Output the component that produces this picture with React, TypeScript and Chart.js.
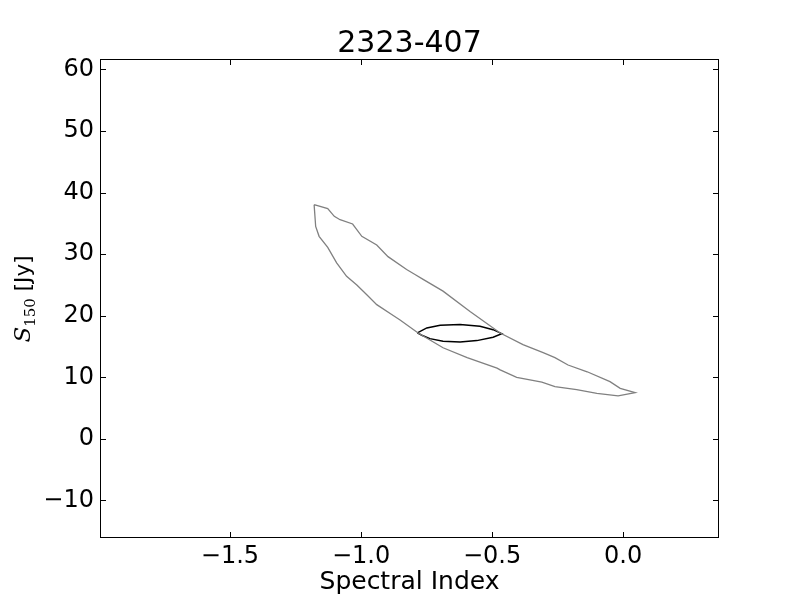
import React, { useEffect, useRef } from "react";
import { Chart, registerables } from "chart.js";

Chart.register(...registerables);

const TITLE = "2323-407";
const X_LABEL = "Spectral Index";
const X_TICKS = [-1.5, -1.0, -0.5, 0.0];
const Y_TICKS = [-10, 0, 10, 20, 30, 40, 50, 60];
const X_MIN = -1.996;
const X_MAX = 0.366;
const Y_MIN = -16.1;
const Y_MAX = 61.7;

// Outer (grey) contour
const outerX = [
  -1.179, -1.127, -1.102, -1.08, -1.032, -0.997, -0.94, -0.897, -0.826, -0.794,
  -0.763, -0.687, -0.584, -0.469, -0.382, -0.305, -0.26, -0.21, -0.137, -0.05,
  -0.011, 0.046, -0.019, -0.1, -0.177, -0.26, -0.31, -0.406, -0.469, -0.481,
  -0.595, -0.687, -0.782, -0.851, -0.883, -0.94, -0.978, -1.016, -1.055, -1.093,
  -1.127, -1.16, -1.173,
];
const outerY = [
  38.05, 37.4, 36.15, 35.6, 34.9, 32.9, 31.5, 29.6, 27.5, 26.7,
  25.9, 24.0, 20.7, 17.2, 15.3, 14.0, 13.2, 12.0, 10.9, 9.3,
  8.2, 7.5, 7.0, 7.4, 8.0, 8.5, 9.2, 10.0, 11.2, 11.5,
  13.2, 14.8, 17.2, 19.3, 20.2, 21.8, 23.4, 25.0, 26.4, 28.6,
  31.1, 32.9, 34.5,
];

// Inner (black) contour
const innerX = [
  -0.785, -0.749, -0.698, -0.622, -0.546, -0.496, -0.463,
  -0.496, -0.558, -0.622, -0.687, -0.737, -0.768,
];
const innerY = [
  17.21, 18.02, 18.46, 18.56, 18.3, 17.74, 17.09,
  16.51, 15.96, 15.75, 15.86, 16.28, 16.83,
];

const closed = (xs: number[], ys: number[]) => {
  const pts = xs.map((x, i) => ({ x, y: ys[i] }));
  pts.push(pts[0]);
  return pts;
};

const fmt = (s: string) => s.replace("-", "\u2212");

const decorPlugin = {
  id: "decor",
  afterDraw(chart: any) {
    const { ctx, chartArea: a, scales } = chart;
    const xs = scales.x;
    const ys = scales.y;
    ctx.save();
    ctx.strokeStyle = "#000";
    ctx.lineWidth = 1;
    ctx.strokeRect(a.left + 0.5, a.top + 0.5, a.right - a.left - 1, a.bottom - a.top - 1);
    const tl = 6;
    ctx.beginPath();
    X_TICKS.forEach((v) => {
      const p = Math.round(xs.getPixelForValue(v)) + 0.5;
      ctx.moveTo(p, a.bottom);
      ctx.lineTo(p, a.bottom - tl);
      ctx.moveTo(p, a.top);
      ctx.lineTo(p, a.top + tl);
    });
    Y_TICKS.forEach((v) => {
      const p = Math.round(ys.getPixelForValue(v)) + 0.5;
      ctx.moveTo(a.left, p);
      ctx.lineTo(a.left + tl, p);
      ctx.moveTo(a.right, p);
      ctx.lineTo(a.right - tl, p);
    });
    ctx.stroke();

    ctx.fillStyle = "#000";
    // title
    ctx.font = "30px 'DejaVu Sans'";
    ctx.textAlign = "center";
    ctx.textBaseline = "middle";
    ctx.fillText(TITLE, (a.left + a.right) / 2, 44);

    // x axis label
    ctx.font = "25px 'DejaVu Sans'";
    ctx.fillText(X_LABEL, (a.left + a.right) / 2, 582);

    // y axis label: S_150 [Jy]
    ctx.translate(22, 299);
    ctx.rotate(-Math.PI / 2);
    const fS = "italic 23px 'DejaVu Serif'";
    const fSub = "15px 'DejaVu Serif'";
    const fR = "21.5px 'DejaVu Sans'";
    ctx.font = fS;
    const wS = ctx.measureText("S").width;
    ctx.font = fSub;
    const wSub = ctx.measureText("150").width;
    ctx.font = fR;
    const wR = ctx.measureText(" [Jy]").width;
    const total = wS + wSub + wR;
    let x0 = -total / 2;
    const base = 8;
    ctx.textAlign = "left";
    ctx.textBaseline = "alphabetic";
    ctx.font = fS;
    ctx.fillText("S", x0, base);
    x0 += wS;
    ctx.font = fSub;
    ctx.fillText("150", x0, base + 5);
    x0 += wSub;
    ctx.font = fR;
    ctx.fillText(" [Jy]", x0, base);
    ctx.restore();
  },
};

export default function App() {
  const ref = useRef<HTMLCanvasElement>(null);
  useEffect(() => {
    document.body.style.margin = "0";
    const chart = new Chart(ref.current as HTMLCanvasElement, {
      type: "scatter",
      data: {
        datasets: [
          {
            data: closed(outerX, outerY),
            showLine: true,
            borderColor: "#808080",
            borderWidth: 1.3,
            pointRadius: 0,
            fill: false,
            tension: 0,
          },
          {
            data: closed(innerX, innerY),
            showLine: true,
            borderColor: "#000000",
            borderWidth: 1.5,
            pointRadius: 0,
            fill: false,
            tension: 0,
          },
        ],
      },
      options: {
        animation: false,
        responsive: false,
        devicePixelRatio: 1,
        layout: { padding: { top: 59, right: 81, bottom: 0, left: 0 } },
        plugins: {
          legend: { display: false },
          tooltip: { enabled: false },
          title: { display: false },
        },
        scales: {
          x: {
            type: "linear",
            min: X_MIN,
            max: X_MAX,
            grid: { display: false, drawTicks: false, tickLength: 0 },
            border: { display: false },
            afterBuildTicks: (s: any) => {
              s.ticks = X_TICKS.map((v) => ({ value: v }));
            },
            afterFit: (s: any) => {
              s.height = 62;
            },
            ticks: {
              color: "#000",
              padding: 4,
              maxRotation: 0,
              font: { family: "'DejaVu Sans'", size: 24 },
              callback: (v: any) => fmt(Number(v).toFixed(1)),
            },
          },
          y: {
            type: "linear",
            min: Y_MIN,
            max: Y_MAX,
            grid: { display: false, drawTicks: false, tickLength: 0 },
            border: { display: false },
            afterBuildTicks: (s: any) => {
              s.ticks = Y_TICKS.map((v) => ({ value: v }));
            },
            afterFit: (s: any) => {
              s.width = 100;
            },
            ticks: {
              color: "#000",
              padding: 6,
              font: { family: "'DejaVu Sans'", size: 24 },
              callback: (v: any) => fmt(String(v)),
            },
          },
        },
      },
      plugins: [decorPlugin],
    });
    return () => chart.destroy();
  }, []);
  return (
    <div style={{ position: "absolute", left: 0, top: 0, width: 800, height: 600 }}>
      <canvas ref={ref} width={800} height={600} />
    </div>
  );
}
